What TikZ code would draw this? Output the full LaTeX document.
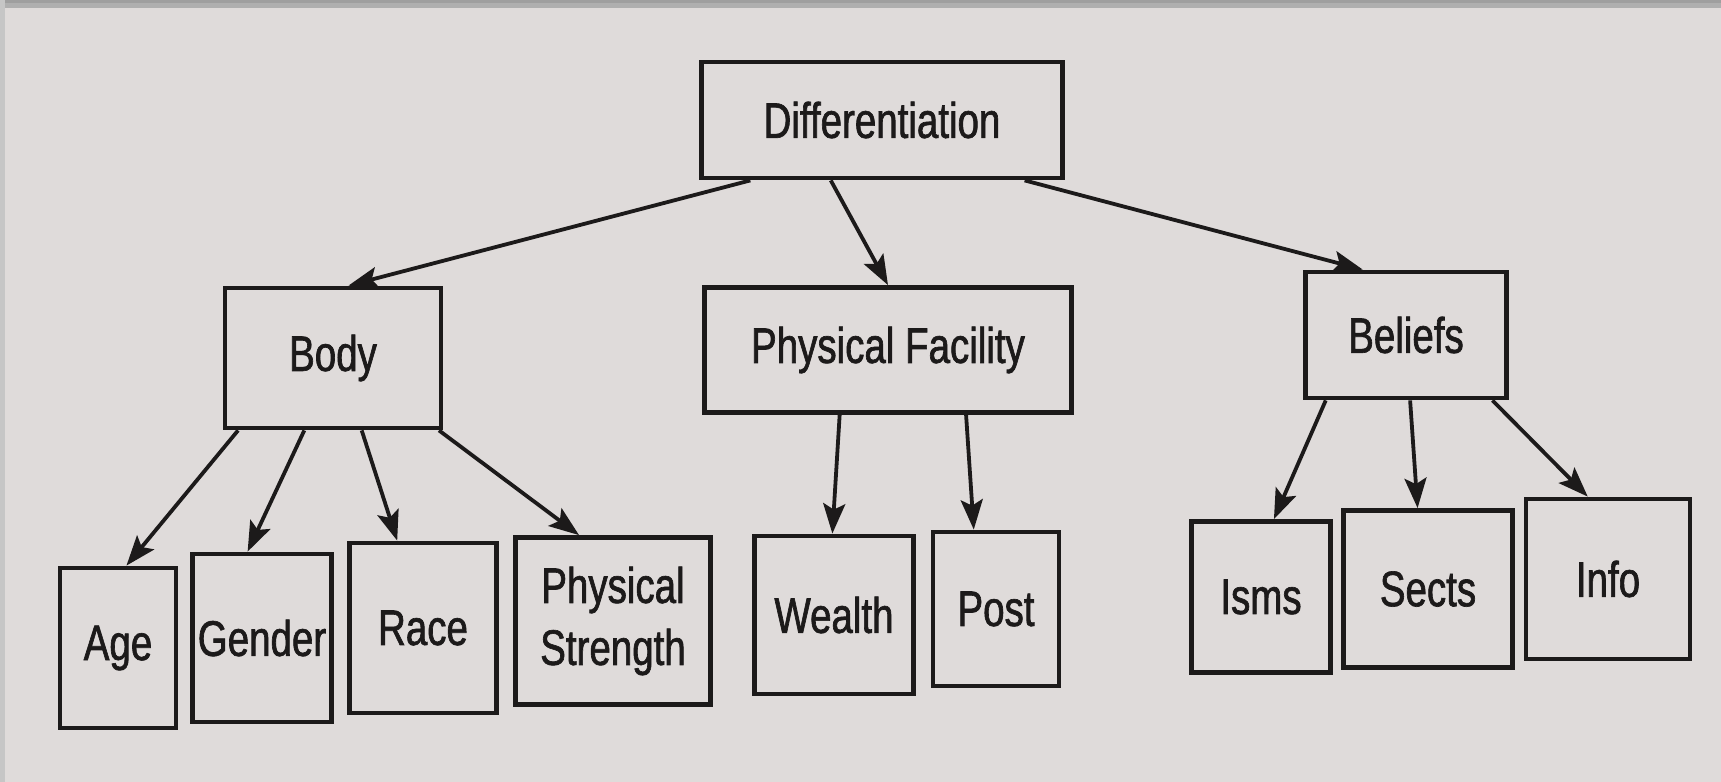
\documentclass[tikz,border=0pt]{standalone}
\usepackage{fontspec}
\setmainfont[FakeStretch=0.77,FakeBold=1.3]{Liberation Sans}
\usetikzlibrary{arrows.meta,calc}
\definecolor{paper}{HTML}{DFDBDA}
\definecolor{ink}{HTML}{1C1A1A}
\begin{document}
\begin{tikzpicture}[x=0.5pt,y=-0.5pt,
  box/.style={draw=ink,line width=2.4pt,inner sep=0pt,text=ink,
    font=\fontsize{25}{31}\selectfont,align=center},
  arr/.style={draw=ink,line width=1.9pt,-{Stealth[length=15pt,width=11pt,inset=3pt]}}]
\fill[paper] (0,0) rectangle (1721,782);
\fill[gray!75] (0,0) rectangle (1721,3);
\fill[gray!110!black!70] (0,3) rectangle (1721,8);
\fill[gray!45] (0,0) rectangle (5,782);
\useasboundingbox (0,0) rectangle (1721,782);
% nodes
\node[box,minimum width=180.5pt,minimum height=58pt] (diff) at (882,120) {Differentiation};
\node[box,minimum width=108pt,minimum height=70pt] (body) at (333,358) {Body};
\node[box,minimum width=183.5pt,minimum height=62.5pt] (pf) at (888,350) {Physical Facility};
\node[box,minimum width=100.5pt,minimum height=63pt] (bel) at (1406,335) {Beliefs};
\node[box,minimum width=58pt,minimum height=80pt] (age) at (118,648) {Age};
\node[box,minimum width=69.5pt,minimum height=84pt] (gen) at (262,638) {Gender};
\node[box,minimum width=73.5pt,minimum height=85pt] (race) at (423,628) {Race};
\node[box,minimum width=97.5pt,minimum height=83.5pt] (ps) at (613,621) {Physical\\Strength};
\node[box,minimum width=79.5pt,minimum height=79pt] (wealth) at (834,615) {Wealth};
\node[box,minimum width=63pt,minimum height=77pt] (post) at (996,609) {Post};
\node[box,minimum width=69.5pt,minimum height=75.5pt] (isms) at (1261,597) {Isms};
\node[box,minimum width=84.5pt,minimum height=78.5pt] (sects) at (1428,589) {Sects};
\node[box,minimum width=82pt,minimum height=80pt] (info) at (1608,579) {Info};
% connectors
\draw[arr] ($(diff.south west)!0.14!(diff.south east)$) -- ($(body.north west)!0.57!(body.north east)$);
\draw[arr] ($(diff.south west)!0.36!(diff.south east)$) -- ($(pf.north west)!0.50!(pf.north east)$);
\draw[arr] ($(diff.south west)!0.89!(diff.south east)$) -- ($(bel.north west)!0.29!(bel.north east)$);
\draw[arr] ($(body.south west)!0.07!(body.south east)$) -- ($(age.north west)!0.57!(age.north east)$);
\draw[arr] ($(body.south west)!0.37!(body.south east)$) -- ($(gen.north west)!0.40!(gen.north east)$);
\draw[arr] ($(body.south west)!0.63!(body.south east)$) -- ($(race.north west)!0.33!(race.north east)$);
\draw[arr] ($(body.south west)!0.98!(body.south east)$) -- ($(ps.north west)!0.33!(ps.north east)$);
\draw[arr] ($(pf.south west)!0.37!(pf.south east)$) -- ($(wealth.north west)!0.49!(wealth.north east)$);
\draw[arr] ($(pf.south west)!0.71!(pf.south east)$) -- ($(post.north west)!0.33!(post.north east)$);
\draw[arr] ($(bel.south west)!0.11!(bel.south east)$) -- ($(isms.north west)!0.59!(isms.north east)$);
\draw[arr] ($(bel.south west)!0.52!(bel.south east)$) -- ($(sects.north west)!0.44!(sects.north east)$);
\draw[arr] ($(bel.south west)!0.92!(bel.south east)$) -- ($(info.north west)!0.38!(info.north east)$);
\end{tikzpicture}
\end{document}
